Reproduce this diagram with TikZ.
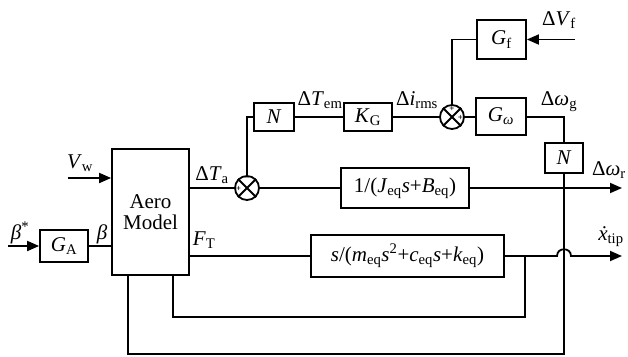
\documentclass[tikz,border=0pt]{standalone}
\usepackage{fontspec}
\setmainfont{Liberation Serif}
\usetikzlibrary{arrows.meta}
\newcommand{\sbs}[1]{\textsubscript{#1}}
\begin{document}
\begin{tikzpicture}[x=1pt,y=-1pt,line width=1.8pt,
  font=\fontsize{21}{23}\selectfont,
  blk/.style={draw,inner sep=0pt},
  sumj/.style={draw,circle,minimum size=24pt,inner sep=0pt},
  lbl/.style={inner sep=0pt},
  sgn/.style={inner sep=0pt,font=\fontsize{9}{9}\selectfont\bfseries},
  arr/.style={-{Triangle[length=12pt,width=10pt]}}]
\useasboundingbox (0,0) rectangle (628,356);
% blocks
\node[blk,minimum width=77pt,minimum height=126pt,align=center] (aero) at (150.5,212) {Aero\\[-2pt]Model};
\node[blk,minimum width=48pt,minimum height=32pt] (ga) at (64,246) {\textit{G}\sbs{A}};
\node[blk,minimum width=40pt,minimum height=28pt] (n1) at (274,117) {\textit{N}};
\node[blk,minimum width=48pt,minimum height=28pt] (kg) at (368,117) {\textit{K}\sbs{G}};
\node[blk,minimum width=50pt,minimum height=37pt] (gw) at (501,116.5) {\textit{G}\sbs{\textit{ω}}};
\node[blk,minimum width=49pt,minimum height=39pt] (gf) at (501.5,39.5) {\textit{G}\sbs{f}};
\node[blk,minimum width=38pt,minimum height=30pt] (n2) at (564,158) {\textit{N}};
\node[blk,minimum width=128pt,minimum height=40pt] (jb) at (405,188) {1/(\textit{J}\sbs{eq}\textit{s}+\textit{B}\sbs{eq})};
\node[blk,minimum width=193pt,minimum height=42pt] (mb) at (407.5,256) {\textit{s}/(\textit{m}\sbs{eq}\textit{s}\textsuperscript{2}+\textit{c}\sbs{eq}\textit{s}+\textit{k}\sbs{eq})};
% summing junctions
\node[sumj] (s1) at (247,188) {};
\draw (s1.45) -- (s1.225) (s1.135) -- (s1.315);
\node[sgn] (s1m) at (247,178.5) {−};
\node[sgn] (s1p) at (238.5,189) {+};
\node[sumj] (s2) at (452,117) {};
\draw (s2.45) -- (s2.225) (s2.135) -- (s2.315);
\node[sgn] (s2a) at (452,108.5) {+};
\node[sgn] (s2b) at (460.5,118) {+};
% free ends
\coordinate (bin) at (8,246);
\coordinate (vin) at (68,178);
\coordinate (vfin) at (575,39.5);
\coordinate (wout) at (622,188);
\coordinate (xout) at (622,256);
% connectors
\draw[arr] (bin) -- (ga.west);
\draw (ga.east) -- (ga.east -| aero.west);
\draw[arr] (vin) -- (vin -| aero.west);
\draw (aero.east |- s1.west) -- (s1.west);
\draw (s1.east) -- (jb.west);
\draw[arr] (jb.east) -- (wout);
\draw (s1.north) -- (s1.north |- n1.west) -- (n1.west);
\draw (n1.east) -- (kg.west);
\draw (kg.east) -- (s2.west);
\draw (s2.east) -- (s2.east -| gw.west);
\draw[arr] (vfin) -- (gf.east);
\draw (gf.west) -- (gf.west -| s2.north) -- (s2.north);
\draw (gw.east |- s2.east) -- (564,117) -- (n2.north);
\draw (n2.south) -- (564,354) -- (128,354) -- (128,275);
\draw (aero.east |- mb.west) -- (mb.west);
\draw[arr] (mb.east) -- (557,256) .. controls (557,247) and (571,247) .. (571,256) -- (xout);
\draw (525,256) -- (525,317) -- (173,317) -- (173,275);
% labels
\node[lbl] (lbs) at (20,233) {\textit{β}\textsuperscript{*}};
\node[lbl] (lb) at (102,234) {\textit{β}};
\node[lbl] (lvw) at (80,163) {\textit{V}\sbs{w}};
\node[lbl] (lta) at (212,175) {Δ\textit{T}\sbs{a}};
\node[lbl] (lft) at (204,240) {\textit{F}\sbs{T}};
\node[lbl] (ltem) at (320,100) {Δ\textit{T}\sbs{em}};
\node[lbl] (lirms) at (417,100) {Δ\textit{i}\sbs{rms}};
\node[lbl] (lvf) at (559,20) {Δ\textit{V}\sbs{f}};
\node[lbl] (lwg) at (559,102) {Δ\textit{ω}\sbs{g}};
\node[lbl] (lwr) at (609,170) {Δ\textit{ω}\sbs{r}};
\node[lbl] (lxt) at (611,237) {\textit{\.{x}}\sbs{tip}};
\end{tikzpicture}
\end{document}
